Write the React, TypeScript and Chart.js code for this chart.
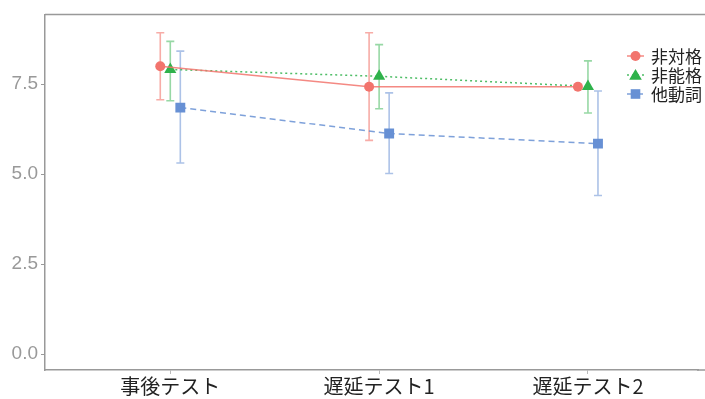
import React, { useEffect, useRef } from "react";
import { Chart, registerables } from "chart.js";

Chart.register(...registerables);

const categories = ["事後テスト", "遅延テスト1", "遅延テスト2"];
const seriesNames = ["非対格", "非能格", "他動詞"];
const meanUnacc = [8.0, 7.43, 7.43];
const upperUnacc = [8.93, 8.93, 7.43];
const lowerUnacc = [7.07, 5.94, 7.43];
const meanUnerg = [7.91, 7.72, 7.44];
const upperUnerg = [8.69, 8.6, 8.15];
const lowerUnerg = [7.04, 6.82, 6.7];
const meanTrans = [6.85, 6.13, 5.85];
const upperTrans = [8.42, 7.26, 7.31];
const lowerTrans = [5.31, 5.02, 4.41];
const yTicks = [0, 2.5, 5, 7.5];

const colors = ["#F2746D", "#2FB24B", "#6790D4"];
const lineColors = ["rgba(242,116,109,0.85)", "rgba(47,178,75,0.85)", "rgba(103,144,212,0.85)"];
const barColors = ["rgba(242,116,109,0.6)", "rgba(47,178,75,0.5)", "rgba(103,144,212,0.55)"];
const dodge = [-0.048, 0, 0.048];
const pointStyles = ["circle", "triangle", "rect"];
const pointRadii = [5, 7, 7];
const dashes = [[], [2, 3], [6, 4]];

const means = [meanUnacc, meanUnerg, meanTrans];
const uppers = [upperUnacc, upperUnerg, upperTrans];
const lowers = [lowerUnacc, lowerUnerg, lowerTrans];

function drawMarker(ctx: CanvasRenderingContext2D, style: string, x: number, y: number, r: number) {
  ctx.beginPath();
  if (style === "circle") {
    ctx.arc(x, y, r, 0, Math.PI * 2);
  } else if (style === "triangle") {
    ctx.moveTo(x, y - r * 1.1);
    ctx.lineTo(x + r * 1.15, y + r * 0.85);
    ctx.lineTo(x - r * 1.15, y + r * 0.85);
    ctx.closePath();
  } else {
    ctx.rect(x - r, y - r, r * 2, r * 2);
  }
  ctx.fill();
}

const extrasPlugin = {
  id: "extras",
  beforeDatasetsDraw(chart: any) {
    const ctx = chart.ctx as CanvasRenderingContext2D;
    const xs = chart.scales.x;
    const ys = chart.scales.y;
    ctx.save();
    for (let s = 0; s < 3; s++) {
      ctx.strokeStyle = barColors[s];
      ctx.lineWidth = 1.6;
      for (let i = 0; i < categories.length; i++) {
        if (uppers[s][i] === lowers[s][i]) continue;
        const px = xs.getPixelForValue(i + 1 + dodge[s]);
        const yu = ys.getPixelForValue(uppers[s][i]);
        const yl = ys.getPixelForValue(lowers[s][i]);
        ctx.beginPath();
        ctx.moveTo(px, yu);
        ctx.lineTo(px, yl);
        ctx.moveTo(px - 4, yu);
        ctx.lineTo(px + 4, yu);
        ctx.moveTo(px - 4, yl);
        ctx.lineTo(px + 4, yl);
        ctx.stroke();
      }
    }
    ctx.restore();
  },
  afterDraw(chart: any) {
    const ctx = chart.ctx as CanvasRenderingContext2D;
    const a = chart.chartArea;
    ctx.save();
    ctx.strokeStyle = "#999";
    ctx.lineWidth = 1.5;
    ctx.beginPath();
    ctx.moveTo(a.left, a.top);
    ctx.lineTo(chart.width, a.top);
    ctx.moveTo(a.right - 1, a.bottom);
    ctx.lineTo(chart.width, a.bottom);
    ctx.stroke();
    const legendY = [56, 75, 94];
    const legendR = [5, 5.5, 4.8];
    for (let s = 0; s < 3; s++) {
      const y = legendY[s];
      ctx.strokeStyle = lineColors[s];
      ctx.lineWidth = 1.5;
      ctx.setLineDash(dashes[s]);
      ctx.beginPath();
      ctx.moveTo(627, y);
      ctx.lineTo(644, y);
      ctx.stroke();
      ctx.setLineDash([]);
      ctx.fillStyle = colors[s];
      drawMarker(ctx, pointStyles[s], 635.5, y, legendR[s]);
      ctx.fillStyle = "#222";
      ctx.font = '17px "Noto Sans CJK JP"';
      ctx.textAlign = "left";
      ctx.textBaseline = "middle";
      ctx.fillText(seriesNames[s], 651, y + 1);
    }
    ctx.restore();
  },
};

export default function App() {
  const ref = useRef<HTMLCanvasElement | null>(null);
  useEffect(() => {
    if (!ref.current) return;
    const datasets = means.map((m, s) => ({
      label: seriesNames[s],
      data: m.map((v, i) => ({ x: i + 1 + dodge[s], y: v })),
      borderColor: lineColors[s],
      backgroundColor: colors[s],
      pointBackgroundColor: colors[s],
      pointBorderColor: colors[s],
      borderWidth: 1.5,
      borderDash: dashes[s],
      pointStyle: pointStyles[s],
      pointRadius: pointRadii[s],
      pointBorderWidth: 0,
      showLine: true,
      tension: 0,
    }));
    const chart = new Chart(ref.current, {
      type: "scatter",
      data: { datasets },
      options: {
        animation: false,
        responsive: false,
        maintainAspectRatio: false,
        layout: { padding: { top: 14, right: 0, left: 0, bottom: 0 } },
        plugins: { legend: { display: false }, tooltip: { enabled: false } },
        scales: {
          x: {
            type: "linear",
            min: 0.4,
            max: 3.527,
            afterBuildTicks: (axis: any) => {
              axis.ticks = categories.map((_, i) => ({ value: i + 1 }));
            },
            afterFit: (axis: any) => {
              axis.height = 29;
            },
            ticks: {
              callback: (v: any) => categories[Math.round(Number(v)) - 1] ?? "",
              color: "#222",
              font: { family: '"Noto Sans CJK JP"', size: 20 },
              padding: 0,
              maxRotation: 0,
              autoSkip: false,
            },
            grid: { drawOnChartArea: false, drawTicks: true, tickLength: 4, color: "#bbb" },
            border: { display: true, color: "#999", width: 1.5 },
          },
          y: {
            min: -0.44,
            max: 9.44,
            afterBuildTicks: (axis: any) => {
              axis.ticks = yTicks.map((v) => ({ value: v }));
            },
            afterFit: (axis: any) => {
              axis.width = 45;
            },
            ticks: {
              callback: (v: any) => Number(v).toFixed(1),
              color: "#999",
              font: { family: '"Liberation Sans", Arial, sans-serif', size: 19 },
              padding: 3,
            },
            grid: { drawOnChartArea: false, drawTicks: true, tickLength: 4, color: "#999" },
            border: { display: true, color: "#999", width: 1.5 },
          },
        },
      },
      plugins: [extrasPlugin],
    } as any);
    return () => chart.destroy();
  }, []);
  return (
    <div style={{ position: "fixed", left: 0, top: 0, width: 705, height: 399, background: "#fff" }}>
      <canvas ref={ref} width={705} height={399} style={{ width: 705, height: 399, display: "block" }} />
    </div>
  );
}
